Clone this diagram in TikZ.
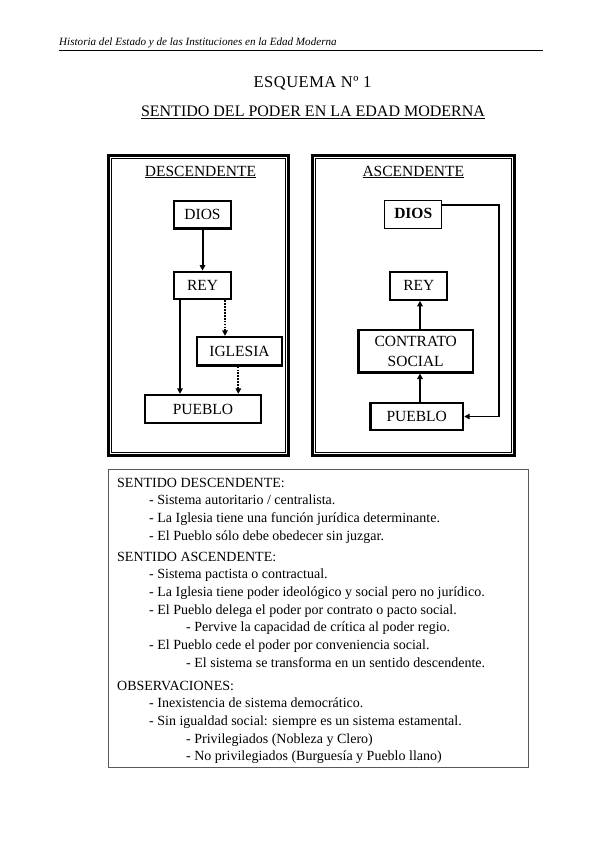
\documentclass[tikz,border=0pt]{standalone}
\usepackage{fontspec}
\setmainfont{Liberation Serif}
\newfontfamily\spacedserif[LetterSpace=3]{Liberation Serif}
\usetikzlibrary{arrows.meta,calc}
\tikzset{
  frameout/.style={draw, line width=3.2pt},
  framein/.style={draw, line width=0.8pt},
  lbl/.style={font=\fontsize{15.5}{19}\selectfont},
  bx/.style={draw, line width=2.3pt, inner sep=0pt, lbl},
  thinbx/.style={draw, line width=1.1pt, inner sep=0pt, lbl},
  arr/.style={line width=2pt, -{Triangle[length=5.5pt,width=5.5pt]}},
  dotarr/.style={arr, dash pattern=on 1.7pt off 1.2pt},
  body/.style={anchor=base west, inner sep=0pt, font=\fontsize{14}{17}\selectfont},
  ttl/.style={anchor=base, inner sep=0pt, font=\fontsize{16}{19}\selectfont},
  head/.style={anchor=base, inner sep=0pt, lbl},
}
\begin{document}
\begin{tikzpicture}[x=1pt,y=-1pt]
\useasboundingbox (0,0) rectangle (599,848);
\fill[white] (0,0) rectangle (599,848);

% page header
\node[anchor=base west, inner sep=0pt, font=\fontsize{11.1}{13}\selectfont\itshape] (hdr) at (59,46) {Historia del Estado y de las Instituciones en la Edad Moderna};
\coordinate (rl) at (59,50.5);
\coordinate (rr) at (543,50.5);
\draw[line width=0.9pt] (rl) -- (rr);

% titles
\node[ttl, font=\spacedserif\fontsize{16.5}{19}\selectfont] (esq) at (312.5,87.5) {ESQUEMA Nº 1};
\node[ttl] (sent) at (313,116.5) {\underline{SENTIDO DEL PODER EN LA EDAD MODERNA}};

% frames
\draw[frameout] (108.6,155.6) rectangle (288.4,455.4);
\draw[framein] (111.4,158.4) rectangle (285.6,452.6);
\draw[frameout] (312.6,155.6) rectangle (514.4,455.4);
\draw[framein] (315.4,158.4) rectangle (511.6,452.6);

\node[head] (hd) at (200.5,176) {\underline{DESCENDENTE}};
\node[head] (ha) at (413.3,176) {\underline{ASCENDENTE}};

% descendente
\node[bx, minimum width=57pt, minimum height=27.5pt] (ddios) at (202.5,214.75) {DIOS};
\node[bx, minimum width=57pt, minimum height=27.5pt] (drey) at (202.5,285.5) {REY};
\node[bx, minimum width=85pt, minimum height=28.5pt] (dig) at (239.5,351.25) {IGLESIA};
\node[bx, minimum width=116pt, minimum height=28pt] (dpue) at (203,409) {PUEBLO};
\coordinate (xa) at (180,0);
\coordinate (xb) at (225,0);
\coordinate (xc) at (238.3,0);
\draw[arr] (ddios) -- (drey);
\draw[arr] (drey.south -| xa) -- (dpue.north -| xa);
\draw[dotarr] (drey.south -| xb) -- (dig.north -| xb);
\draw[dotarr] (dig.south -| xc) -- (dpue.north -| xc);

% ascendente
\node[thinbx, minimum width=57.3pt, minimum height=28.3pt] (adios) at (413.2,214.7) {\raisebox{3.5pt}{\textbf{DIOS}}};
\node[bx, minimum width=57pt, minimum height=27.7pt] (arey) at (418.8,285.8) {REY};
\node[bx, minimum width=114.7pt, minimum height=42.3pt, align=center] (acon) at (415.7,351.2) {CONTRATO\\[1pt]SOCIAL};
\node[bx, minimum width=92.7pt, minimum height=26.4pt] (apue) at (416.7,416.5) {PUEBLO};
\coordinate (xd) at (420,0);
\coordinate (rc) at (499,416.5);
\draw[arr] (apue.north -| xd) -- (acon.south -| xd);
\draw[arr] (acon.north -| xd) -- (arey.south -| xd);
\draw[arr, line width=1.8pt] ([yshift=9.7pt]adios.east) -| (rc) |- (apue.east);

% text box
\draw[draw=black!65, line width=1pt] (108.5,469.5) rectangle (528.5,767);

\node[body] (t1) at (117,487) {SENTIDO DESCENDENTE:};
\node[body] (t2) at (149,504.7) {- Sistema autoritario / centralista.};
\node[body] (t3) at (149,522.4) {- La Iglesia tiene una función jurídica determinante.};
\node[body] (t4) at (149,540.1) {- El Pueblo sólo debe obedecer sin juzgar.};
\node[body] (t5) at (117,561) {SENTIDO ASCENDENTE:};
\node[body] (t6) at (149,578.7) {- Sistema pactista o contractual.};
\node[body] (t7) at (149,596.4) {- La Iglesia tiene poder ideológico y social pero no jurídico.};
\node[body] (t8) at (149,614.1) {- El Pueblo delega el poder por contrato o pacto social.};
\node[body] (t9) at (186,631.8) {- Pervive la capacidad de crítica al poder regio.};
\node[body] (t10) at (149,649.5) {- El Pueblo cede el poder por conveniencia social.};
\node[body] (t11) at (186,667.2) {- El sistema se transforma en un sentido descendente.};
\node[body] (t12) at (117,690) {OBSERVACIONES:};
\node[body] (t13) at (149,707.7) {- Inexistencia de sistema democrático.};
\node[body] (t14) at (149,725.4) {- Sin igualdad social: siempre es un sistema estamental.};
\node[body] (t15) at (186,743.1) {- Privilegiados (Nobleza y Clero)};
\node[body] (t16) at (186,760.8) {- No privilegiados (Burguesía y Pueblo llano)};
\end{tikzpicture}
\end{document}
